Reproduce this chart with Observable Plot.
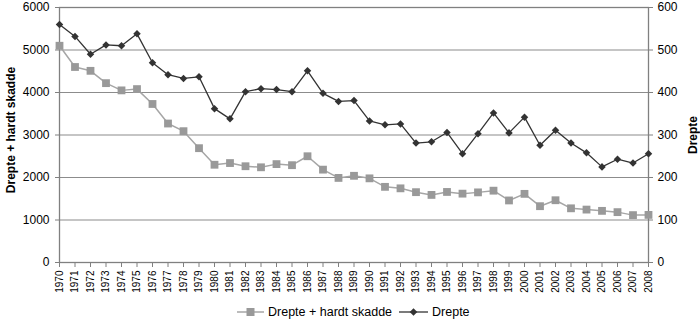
<!DOCTYPE html>
<html><head><meta charset="utf-8">
<script src="https://cdn.jsdelivr.net/npm/d3@7"></script>
<script src="https://cdn.jsdelivr.net/npm/@observablehq/plot@0.6"></script>
<style>
body{margin:0;background:#fff;font-family:"Liberation Sans",Arial,sans-serif;}
#chart{width:700px;height:321px;position:relative;overflow:hidden;}
#chart svg{display:block;}
.legend{height:19px;display:flex;align-items:center;font-size:12.5px;padding-left:237px;color:#000;}
.legend .item{display:flex;align-items:center;}
.legend svg{margin-right:4px;}
</style></head><body><div id="chart"></div>
<script>
const years = [1970,1971,1972,1973,1974,1975,1976,1977,1978,1979,1980,1981,1982,1983,1984,1985,1986,1987,1988,1989,1990,1991,1992,1993,1994,1995,1996,1997,1998,1999,2000,2001,2002,2003,2004,2005,2006,2007,2008];
const drepteHardtSkadde = [5100,4600,4510,4220,4050,4080,3730,3270,3090,2690,2300,2340,2265,2240,2315,2290,2500,2185,1990,2040,1980,1780,1745,1655,1590,1660,1620,1650,1690,1460,1615,1325,1465,1275,1245,1215,1185,1115,1120];
const drepte = [560,532,490,512,510,538,470,442,433,437,362,338,402,409,407,402,451,398,379,381,333,324,326,281,284,306,256,303,352,305,342,276,311,281,258,225,243,234,256];
const seriesNames = ["Drepte + hardt skadde", "Drepte"];
const leftTicks = [0,1000,2000,3000,4000,5000,6000];
const rightTicks = [0,100,200,300,400,500,600];

const rightFactor = 10; // right axis 0–600 shares the left scale 0–6000
const rows = years.map((y, i) => ({year: y, total: drepteHardtSkadde[i], killed: drepte[i]}));
const grey = "#808080";

const plot = Plot.plot({
  width: 700, height: 302,
  marginLeft: 59, marginRight: 52, marginTop: 7, marginBottom: 40,
  style: {fontFamily: "Liberation Sans, Arial, sans-serif", fontSize: "12px", color: "#000", background: "#fff"},
  x: {type: "linear", domain: [years[0], years[years.length - 1]]},
  y: {domain: [leftTicks[0], leftTicks[leftTicks.length - 1]]},
  marks: [
    Plot.gridY(leftTicks.slice(1), {stroke: "#8c8c8c", strokeOpacity: 1, strokeWidth: 1.2}),
    Plot.frame({stroke: grey, strokeWidth: 1.3}),
    Plot.axisY(leftTicks, {anchor: "left", tickSize: 4, tickPadding: 6, label: null, stroke: grey, fontSize: 12, tickFormat: d => String(d)}),
    Plot.axisY(rightTicks.map(v => v * rightFactor), {anchor: "right", tickSize: 4, tickPadding: 5, label: null, stroke: grey, fontSize: 12, tickFormat: d => String(d / rightFactor)}),
    Plot.axisX(years, {anchor: "bottom", tickSize: 5, tickPadding: 3, tickRotate: -90, label: null, stroke: grey, fontSize: 10, tickFormat: d => String(d)}),
    Plot.line(rows, {x: "year", y: "total", stroke: "#a6a6a6", strokeWidth: 1.5}),
    Plot.dot(rows, {x: "year", y: "total", symbol: "square", r: 4.4, fill: "#999999", stroke: null}),
    Plot.line(rows, {x: "year", y: d => d.killed * rightFactor, stroke: "#333333", strokeWidth: 1.3}),
    Plot.dot(rows, {x: "year", y: d => d.killed * rightFactor, symbol: "diamond2", r: 3.4, fill: "#333333", stroke: null}),
    Plot.text([seriesNames[0]], {text: d => d, frameAnchor: "left", textAnchor: "middle", rotate: -90, dx: -48, dy: -5, fontWeight: "bold", fontSize: 12, fill: "#000"}),
    Plot.text([seriesNames[1]], {text: d => d, frameAnchor: "right", textAnchor: "middle", rotate: -90, dx: 45, fontWeight: "bold", fontSize: 12, fill: "#000"})
  ]
});
const chart = document.getElementById("chart");
chart.appendChild(plot);

const legend = document.createElement("div");
legend.className = "legend";
const swatches = [
  `<svg width="27" height="10"><line x1="0" x2="27" y1="5" y2="5" stroke="#a6a6a6" stroke-width="1.5"/><rect x="9.5" y="1" width="8" height="8" fill="#999999"/></svg>`,
  `<svg width="29" height="10"><line x1="0" x2="29" y1="5" y2="5" stroke="#333333" stroke-width="1.3"/><path d="M14.5,1.2L18.3,5L14.5,8.8L10.7,5Z" fill="#333333"/></svg>`
];
legend.innerHTML = seriesNames.map((n, i) =>
  `<span class="item" style="margin-left:${i ? 7 : 0}px">${swatches[i]}<span>${n}</span></span>`).join("");
chart.appendChild(legend);
</script></body></html>
